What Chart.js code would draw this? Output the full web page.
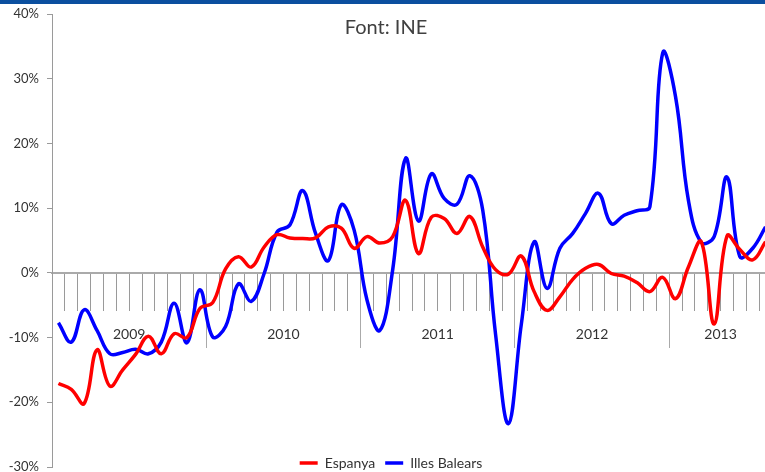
<!DOCTYPE html>
<html lang="ca">
<head>
    <meta charset="UTF-8">
    <title>Espanya i Illes Balears - Font: INE</title>
    <script src="https://cdn.jsdelivr.net/npm/chart.js"></script>
    <style>
        body {
            margin: 0;
            padding: 0;
            overflow: hidden;
            background: #ffffff;
        }

        .topbar {
            position: absolute;
            left: 0;
            top: 0;
            width: 100%;
            height: 4px;
            background: #0b4f9f;
            z-index: 2;
        }

        #wrap {
            position: absolute;
            left: 0;
            top: 0;
            width: 772px;
            height: 472px;
        }
    </style>
</head>
<body>
    <div class="topbar"></div>
    <div id="wrap"><canvas id="chart" width="772" height="472"></canvas></div>

    <script>
        // mesos (gen 2009 - ago 2013)
        const months = [
            '2009-01', '2009-02', '2009-03', '2009-04', '2009-05', '2009-06', '2009-07', '2009-08', '2009-09', '2009-10', '2009-11', '2009-12',
            '2010-01', '2010-02', '2010-03', '2010-04', '2010-05', '2010-06', '2010-07', '2010-08', '2010-09', '2010-10', '2010-11', '2010-12',
            '2011-01', '2011-02', '2011-03', '2011-04', '2011-05', '2011-06', '2011-07', '2011-08', '2011-09', '2011-10', '2011-11', '2011-12',
            '2012-01', '2012-02', '2012-03', '2012-04', '2012-05', '2012-06', '2012-07', '2012-08', '2012-09', '2012-10', '2012-11', '2012-12',
            '2013-01', '2013-02', '2013-03', '2013-04', '2013-05', '2013-06', '2013-07', '2013-08'
        ];

        // variacio interanual (%)
        const espanya = [
            -17.1, -18.0, -20.2, -11.9, -17.5, -15.0, -12.6, -9.8, -12.5, -9.4, -10.0, -5.5,
            -4.6, 0.6, 2.5, 0.9, 4.0, 5.9, 5.4, 5.3, 5.4, 7.1, 6.9, 3.8,
            5.6, 4.6, 5.6, 11.2, 3.0, 8.6, 8.4, 6.1, 8.7, 4.0, 0.5, -0.2,
            2.6, -2.9, -5.8, -3.7, -1.0, 0.7, 1.3, -0.1, -0.5, -1.5, -2.9, -0.7,
            -4.0, 0.9, 4.8, -7.9, 5.7, 3.6, 2.0, 4.8
        ];

        const illesBalears = [
            -7.7, -10.7, -5.7, -8.9, -12.5, -12.3, -11.8, -12.5, -10.7, -4.7, -10.8, -2.6,
            -9.9, -8.3, -1.7, -4.4, -0.1, 6.3, 7.4, 12.7, 6.1, 1.9, 10.5, 6.6,
            -4.2, -8.9, 0.5, 17.7, 8.0, 15.3, 11.5, 10.6, 15.0, 9.7, -9.5, -23.3,
            -8.0, 4.8, -2.4, 3.8, 6.1, 9.2, 12.3, 7.6, 8.9, 9.6, 10.2, 34.0,
            27.2, 11.2, 4.7, 5.6, 14.8, 2.5, 3.8, 7.1
        ];

        // on va l'etiqueta de cada any (mig de l'any)
        const yearLabelIdx = [6, 18, 30, 42, 52];

        const yMin = -30;
        const yMax = 40;
        const yStep = 10;

        const GRAY = '#9a9a9a';
        const TEXT = '#333333';
        Chart.defaults.font.family = 'Lato, sans-serif';

        // la llegenda va damunt la part baixa del grafic, com a l'original
        const legendOverPlot = {
            id: 'legendOverPlot',
            afterLayout(chart) {
                const lg = chart.legend;
                lg.top -= 21;
                lg.bottom -= 21;
                lg.left += 5;
                lg.right += 5;
            }
        };

        const ctx = document.getElementById('chart').getContext('2d');

        new Chart(ctx, {
            type: 'line',
            data: {
                labels: months,
                datasets: [{
                    label: 'Espanya',
                    data: espanya,
                    borderColor: '#ff0000',
                    backgroundColor: '#ff0000',
                    borderWidth: 3.5,
                    pointRadius: 0,
                    tension: 0.4,
                    fill: false
                }, {
                    label: 'Illes Balears',
                    data: illesBalears,
                    borderColor: '#0000ff',
                    backgroundColor: '#0000ff',
                    borderWidth: 3.5,
                    pointRadius: 0,
                    tension: 0.4,
                    fill: false
                }]
            },
            options: {
                responsive: false,
                animation: false,
                layout: {
                    padding: { top: 0, left: 0, right: 0, bottom: -29 }
                },
                scales: {
                    x: {
                        type: 'category',
                        position: { y: 0 },
                        offset: true,
                        grid: {
                            offset: true,
                            drawOnChartArea: false,
                            tickLength: 37,
                            color: GRAY,
                            lineWidth: 1
                        },
                        border: { color: '#aaaaaa', width: 2 },
                        ticks: {
                            autoSkip: false,
                            maxRotation: 0,
                            minRotation: 0,
                            padding: 16,
                            labelOffset: -6.4,
                            color: TEXT,
                            font: { size: 14 },
                            callback: (v, i) => yearLabelIdx.includes(i) ? months[i].slice(0, 4) : ''
                        },
                        afterFit(scale) {
                            scale.paddingLeft = 0;
                            scale.paddingRight = 0;
                        }
                    },
                    // linies llargues que separen els anys
                    xYears: {
                        type: 'category',
                        axis: 'x',
                        position: { y: 0 },
                        offset: true,
                        grid: {
                            offset: true,
                            drawOnChartArea: false,
                            tickLength: 75,
                            tickWidth: 1,
                            tickColor: c => (c.index > 0 && c.index < months.length && c.index % 12 === 0) ? '#aaaaaa' : 'rgba(0,0,0,0)'
                        },
                        border: { display: false },
                        ticks: { display: false }
                    },
                    y: {
                        min: yMin,
                        max: yMax,
                        ticks: {
                            stepSize: yStep,
                            padding: 8,
                            color: TEXT,
                            font: { size: 13 },
                            callback: v => v + '%'
                        },
                        grid: {
                            drawOnChartArea: false,
                            tickLength: 5,
                            color: GRAY
                        },
                        border: { color: GRAY, width: 1 },
                        afterFit(scale) {
                            scale.width = 52;
                            scale.paddingTop = 0;
                            scale.paddingBottom = 0;
                        }
                    }
                },
                plugins: {
                    title: {
                        display: true,
                        text: 'Font: INE',
                        color: '#404040',
                        font: { size: 20, weight: 'normal' },
                        padding: { top: 16, bottom: -26 }
                    },
                    legend: {
                        position: 'bottom',
                        labels: {
                            usePointStyle: true,
                            pointStyle: 'line',
                            pointStyleWidth: 18,
                            padding: 10,
                            color: TEXT,
                            font: { size: 14 }
                        }
                    },
                    tooltip: { enabled: false }
                }
            },
            plugins: [legendOverPlot]
        });
    </script>
</body>
</html>
